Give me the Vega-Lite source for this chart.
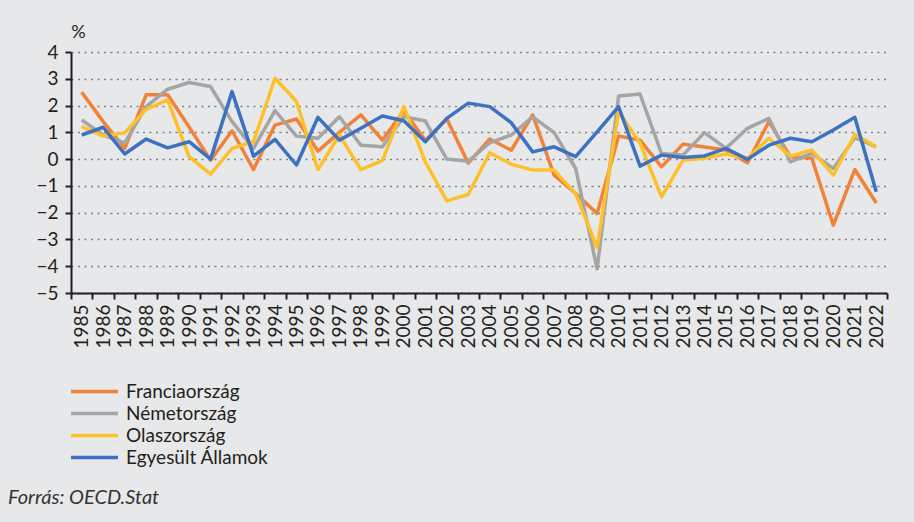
{
"$schema":"https://vega.github.io/schema/vega-lite/v6.json",
"width":816,"height":241,
"autosize":{"type":"none"},
"padding":{"left":71,"top":52,"right":27,"bottom":229},
"background":"#e7e8ea",
"config":{"view":{"stroke":null},"font":"Lato"},
"title":{"text":"Forrás: OECD.Stat","orient":"bottom","anchor":"start","frame":"group","dx":-63,"offset":20,"fontStyle":"italic","fontWeight":"normal","fontSize":20,"color":"#333333","font":"Lato"},
"data":{"values":[
{"year":1985,"country":"Franciaország","value":2.5},{"year":1986,"country":"Franciaország","value":1.4},{"year":1987,"country":"Franciaország","value":0.4},{"year":1988,"country":"Franciaország","value":2.4},{"year":1989,"country":"Franciaország","value":2.4},{"year":1990,"country":"Franciaország","value":1.2},{"year":1991,"country":"Franciaország","value":-0.04},{"year":1992,"country":"Franciaország","value":1.06},{"year":1993,"country":"Franciaország","value":-0.39},{"year":1994,"country":"Franciaország","value":1.27},{"year":1995,"country":"Franciaország","value":1.5},{"year":1996,"country":"Franciaország","value":0.3},{"year":1997,"country":"Franciaország","value":1.0},{"year":1998,"country":"Franciaország","value":1.65},{"year":1999,"country":"Franciaország","value":0.71},{"year":2000,"country":"Franciaország","value":1.8},{"year":2001,"country":"Franciaország","value":0.7},{"year":2002,"country":"Franciaország","value":1.5},{"year":2003,"country":"Franciaország","value":-0.15},{"year":2004,"country":"Franciaország","value":0.75},{"year":2005,"country":"Franciaország","value":0.33},{"year":2006,"country":"Franciaország","value":1.65},{"year":2007,"country":"Franciaország","value":-0.6},{"year":2008,"country":"Franciaország","value":-1.28},{"year":2009,"country":"Franciaország","value":-2.03},{"year":2010,"country":"Franciaország","value":0.86},{"year":2011,"country":"Franciaország","value":0.71},{"year":2012,"country":"Franciaország","value":-0.29},{"year":2013,"country":"Franciaország","value":0.56},{"year":2014,"country":"Franciaország","value":0.45},{"year":2015,"country":"Franciaország","value":0.34},{"year":2016,"country":"Franciaország","value":-0.14},{"year":2017,"country":"Franciaország","value":1.4},{"year":2018,"country":"Franciaország","value":0.09},{"year":2019,"country":"Franciaország","value":0.03},{"year":2020,"country":"Franciaország","value":-2.47},{"year":2021,"country":"Franciaország","value":-0.39},{"year":2022,"country":"Franciaország","value":-1.64},
{"year":1985,"country":"Németország","value":1.46},{"year":1986,"country":"Németország","value":0.9},{"year":1987,"country":"Németország","value":0.61},{"year":1988,"country":"Németország","value":1.96},{"year":1989,"country":"Németország","value":2.61},{"year":1990,"country":"Németország","value":2.86},{"year":1991,"country":"Németország","value":2.71},{"year":1992,"country":"Németország","value":1.4},{"year":1993,"country":"Németország","value":0.4},{"year":1994,"country":"Németország","value":1.81},{"year":1995,"country":"Németország","value":0.86},{"year":1996,"country":"Németország","value":0.78},{"year":1997,"country":"Németország","value":1.58},{"year":1998,"country":"Németország","value":0.52},{"year":1999,"country":"Németország","value":0.46},{"year":2000,"country":"Németország","value":1.58},{"year":2001,"country":"Németország","value":1.42},{"year":2002,"country":"Németország","value":0.0},{"year":2003,"country":"Németország","value":-0.08},{"year":2004,"country":"Németország","value":0.61},{"year":2005,"country":"Németország","value":0.9},{"year":2006,"country":"Németország","value":1.58},{"year":2007,"country":"Németország","value":0.99},{"year":2008,"country":"Németország","value":-0.35},{"year":2009,"country":"Németország","value":-4.1},{"year":2010,"country":"Németország","value":2.36},{"year":2011,"country":"Németország","value":2.43},{"year":2012,"country":"Németország","value":0.21},{"year":2013,"country":"Németország","value":0.15},{"year":2014,"country":"Németország","value":0.99},{"year":2015,"country":"Németország","value":0.4},{"year":2016,"country":"Németország","value":1.15},{"year":2017,"country":"Németország","value":1.52},{"year":2018,"country":"Németország","value":-0.1},{"year":2019,"country":"Németország","value":0.21},{"year":2020,"country":"Németország","value":-0.35},{"year":2021,"country":"Németország","value":0.8},{"year":2022,"country":"Németország","value":0.46},
{"year":1985,"country":"Olaszország","value":1.21},{"year":1986,"country":"Olaszország","value":0.86},{"year":1987,"country":"Olaszország","value":0.98},{"year":1988,"country":"Olaszország","value":1.86},{"year":1989,"country":"Olaszország","value":2.21},{"year":1990,"country":"Olaszország","value":0.09},{"year":1991,"country":"Olaszország","value":-0.56},{"year":1992,"country":"Olaszország","value":0.4},{"year":1993,"country":"Olaszország","value":0.65},{"year":1994,"country":"Olaszország","value":3.02},{"year":1995,"country":"Olaszország","value":2.15},{"year":1996,"country":"Olaszország","value":-0.39},{"year":1997,"country":"Olaszország","value":0.9},{"year":1998,"country":"Olaszország","value":-0.39},{"year":1999,"country":"Olaszország","value":-0.06},{"year":2000,"country":"Olaszország","value":1.96},{"year":2001,"country":"Olaszország","value":-0.1},{"year":2002,"country":"Olaszország","value":-1.56},{"year":2003,"country":"Olaszország","value":-1.32},{"year":2004,"country":"Olaszország","value":0.24},{"year":2005,"country":"Olaszország","value":-0.19},{"year":2006,"country":"Olaszország","value":-0.41},{"year":2007,"country":"Olaszország","value":-0.41},{"year":2008,"country":"Olaszország","value":-1.29},{"year":2009,"country":"Olaszország","value":-3.31},{"year":2010,"country":"Olaszország","value":1.77},{"year":2011,"country":"Olaszország","value":0.6},{"year":2012,"country":"Olaszország","value":-1.41},{"year":2013,"country":"Olaszország","value":-0.04},{"year":2014,"country":"Olaszország","value":0.03},{"year":2015,"country":"Olaszország","value":0.19},{"year":2016,"country":"Olaszország","value":0.03},{"year":2017,"country":"Olaszország","value":0.78},{"year":2018,"country":"Olaszország","value":0.11},{"year":2019,"country":"Olaszország","value":0.34},{"year":2020,"country":"Olaszország","value":-0.6},{"year":2021,"country":"Olaszország","value":0.92},{"year":2022,"country":"Olaszország","value":0.46},
{"year":1985,"country":"Egyesült Államok","value":0.9},{"year":1986,"country":"Egyesült Államok","value":1.19},{"year":1987,"country":"Egyesült Államok","value":0.19},{"year":1988,"country":"Egyesült Államok","value":0.75},{"year":1989,"country":"Egyesült Államok","value":0.42},{"year":1990,"country":"Egyesült Államok","value":0.65},{"year":1991,"country":"Egyesült Államok","value":0.0},{"year":1992,"country":"Egyesült Államok","value":2.52},{"year":1993,"country":"Egyesült Államok","value":0.11},{"year":1994,"country":"Egyesült Államok","value":0.74},{"year":1995,"country":"Egyesült Államok","value":-0.22},{"year":1996,"country":"Egyesült Államok","value":1.56},{"year":1997,"country":"Egyesült Államok","value":0.71},{"year":1998,"country":"Egyesült Államok","value":1.15},{"year":1999,"country":"Egyesült Államok","value":1.61},{"year":2000,"country":"Egyesült Államok","value":1.43},{"year":2001,"country":"Egyesült Államok","value":0.65},{"year":2002,"country":"Egyesült Államok","value":1.52},{"year":2003,"country":"Egyesült Államok","value":2.09},{"year":2004,"country":"Egyesült Államok","value":1.96},{"year":2005,"country":"Egyesült Államok","value":1.36},{"year":2006,"country":"Egyesült Államok","value":0.27},{"year":2007,"country":"Egyesült Államok","value":0.46},{"year":2008,"country":"Egyesült Államok","value":0.09},{"year":2009,"country":"Egyesült Államok","value":1.02},{"year":2010,"country":"Egyesült Államok","value":1.96},{"year":2011,"country":"Egyesült Államok","value":-0.26},{"year":2012,"country":"Egyesült Államok","value":0.15},{"year":2013,"country":"Egyesült Államok","value":0.06},{"year":2014,"country":"Egyesült Államok","value":0.12},{"year":2015,"country":"Egyesült Államok","value":0.4},{"year":2016,"country":"Egyesült Államok","value":-0.01},{"year":2017,"country":"Egyesült Államok","value":0.52},{"year":2018,"country":"Egyesült Államok","value":0.78},{"year":2019,"country":"Egyesült Államok","value":0.65},{"year":2020,"country":"Egyesült Államok","value":1.09},{"year":2021,"country":"Egyesült Államok","value":1.56},{"year":2022,"country":"Egyesült Államok","value":-1.22}
]},
"mark":{"type":"line","strokeWidth":3.5,"strokeJoin":"round"},
"encoding":{
"x":{"field":"year","type":"ordinal","scale":{"type":"band","paddingInner":0,"paddingOuter":0},
 "axis":{"title":null,"labelAngle":-90,"labelAlign":"right","labelBaseline":"middle","labelFont":"Lato","labelFontSize":19,"labelColor":"#231f20","labelPadding":5,"tickBand":"extent","tickSize":6,"tickWidth":2,"tickColor":"#231f20","domainColor":"#231f20","domainWidth":2,"grid":false}},
"y":{"field":"value","type":"quantitative","scale":{"domain":[-5,4],"nice":false,"zero":false},
 "axis":{"values":[-5,-4,-3,-2,-1,0,1,2,3,4],"title":"%","titleAngle":0,"titleX":7,"titleY":-20,"titleAlign":"center","titleBaseline":"middle","titleFont":"Lato","titleFontSize":18,"titleFontWeight":"normal","titleColor":"#231f20","labelFont":"Lato","labelFontSize":19,"labelColor":"#231f20","labelPadding":7,"tickSize":6,"tickWidth":2,"tickColor":"#231f20","domainColor":"#231f20","domainWidth":2,"grid":true,"gridColor":"#7f7f7f","gridDash":[2,4.5],"gridWidth":1.3}},
"color":{"field":"country","type":"nominal","scale":{"domain":["Franciaország","Németország","Olaszország","Egyesült Államok"],"range":["#F2823A","#A5A5A5","#FFC12A","#3E72C0"]},
 "legend":{"orient":"none","legendX":12,"legendY":328,"title":null,"direction":"vertical","symbolType":"M-2.5,0H2.5","symbolSize":353,"symbolStrokeWidth":3.5,"labelFont":"Lato","labelFontSize":19,"labelColor":"#231f20","labelOffset":20,"rowPadding":0,"padding":0}}
}
}
